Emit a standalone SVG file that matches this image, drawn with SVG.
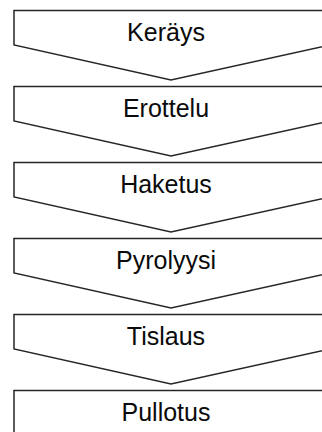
<svg xmlns="http://www.w3.org/2000/svg" width="322" height="432" viewBox="0 0 322 432">
  <style>
    .step { fill: #ffffff; stroke: #262626; stroke-width: 1.5; stroke-linejoin: miter; }
    .label { font-family: "Liberation Sans", Arial, sans-serif; font-size: 25px; fill: #0a0a0a; text-anchor: middle; }
  </style>
  <rect width="322" height="432" fill="#ffffff"/>
  <!-- process steps: chevron blocks stacked top to bottom -->
  <g id="step-kerays">
    <path class="step" d="M14,10.5 H330 V45 L171,80 L14,45 Z"/>
    <text class="label" x="166" y="41">Keräys</text>
  </g>
  <g id="step-erottelu">
    <path class="step" d="M14,86.5 H330 V121 L171,156 L14,121 Z"/>
    <text class="label" x="166" y="117">Erottelu</text>
  </g>
  <g id="step-haketus">
    <path class="step" d="M14,162.5 H330 V197 L171,232 L14,197 Z"/>
    <text class="label" x="166" y="193">Haketus</text>
  </g>
  <g id="step-pyrolyysi">
    <path class="step" d="M14,238.5 H330 V273 L171,308 L14,273 Z"/>
    <text class="label" x="166" y="269">Pyrolyysi</text>
  </g>
  <g id="step-tislaus">
    <path class="step" d="M14,314.5 H330 V349 L171,384 L14,349 Z"/>
    <text class="label" x="166" y="345">Tislaus</text>
  </g>
  <g id="step-pullotus">
    <path class="step" d="M14,390.5 H330 V440 H14 Z"/>
    <text class="label" x="166" y="421">Pullotus</text>
  </g>
  <g id="connectors"></g>
</svg>
